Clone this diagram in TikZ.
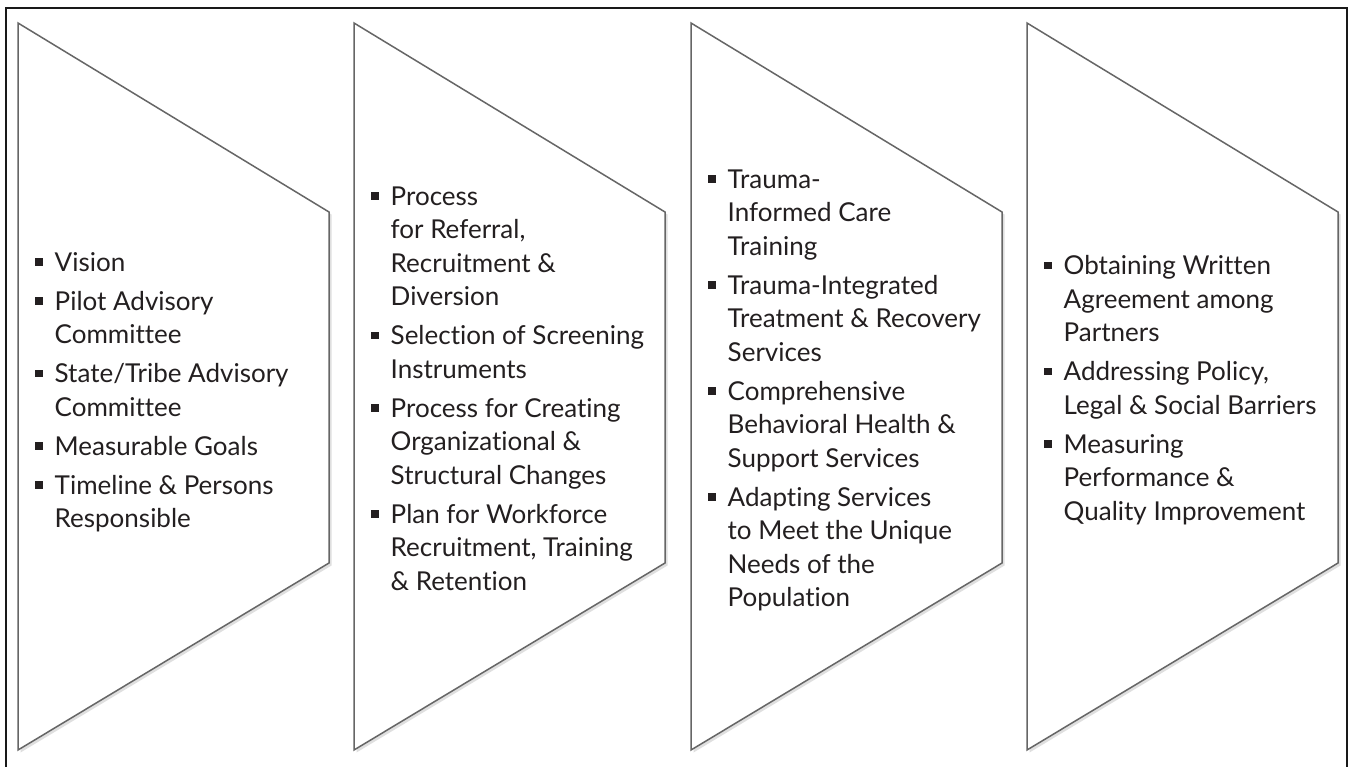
\documentclass[tikz,border=0pt]{standalone}
\usepackage{fontspec}
\setmainfont{Lato}[Ligatures=NoCommon]
\usetikzlibrary{shadows}
\definecolor{edge}{HTML}{666666}
\definecolor{ink}{HTML}{231F20}
\newcommand\sq{\raisebox{5.5pt}{\rule{7.5pt}{7.5pt}}}
\tikzset{
  chev/.style={draw=edge, line width=1.5pt, fill=white,
    drop shadow={opacity=0.25, shadow xshift=2.5pt, shadow yshift=-2.5pt}},
  txt/.style={anchor=west, inner sep=0pt, text=ink,
    font=\fontsize{26}{33.5}\selectfont},
  frame/.style={draw=black!90, line width=2.5pt}
}
\newcommand\chevron[1]{%
  \path[chev] (#1,23) -- (#1+311,212) -- (#1+311,563) -- (#1,750) -- cycle;%
}
\begin{document}
\begin{tikzpicture}[x=1pt,y=-1pt]
\useasboundingbox (0,0) rectangle (1349,766);
\fill[white] (0,0) rectangle (1349,766);
\draw[frame] (6,770) -- (6,8) -- (1347,8) -- (1347,770);
\chevron{18}
\chevron{354}
\chevron{691}
\chevron{1027}
\node[txt] (t1) at (35,393) {\begin{tabular}{@{}p{19.5pt}@{}l@{}}
\sq & Vision\\[5.5pt]
\sq & Pilot Advisory\\
 & Committee\\[5.5pt]
\sq & State/Tribe Advisory\\
 & Committee\\[5.5pt]
\sq & Measurable Goals\\[5.5pt]
\sq & Timeline \& Persons\\
 & Responsible
\end{tabular}};
\node[txt] (t2) at (371,391) {\begin{tabular}{@{}p{19.5pt}@{}l@{}}
\sq & Process\\
 & for Referral,\\
 & Recruitment \&\\
 & Diversion\\[5.5pt]
\sq & Selection of Screening\\
 & Instruments\\[5.5pt]
\sq & Process for Creating\\
 & Organizational \&\\
 & Structural Changes\\[5.5pt]
\sq & Plan for Workforce\\
 & Recruitment, Training\\
 & \& Retention
\end{tabular}};
\node[txt] (t3) at (708,391) {\begin{tabular}{@{}p{19.5pt}@{}l@{}}
\sq & Trauma-\\
 & Informed Care\\
 & Training\\[5.5pt]
\sq & Trauma-Integrated\\
 & Treatment \& Recovery\\
 & Services\\[5.5pt]
\sq & Comprehensive\\
 & Behavioral Health \&\\
 & Support Services\\[5.5pt]
\sq & Adapting Services\\
 & to Meet the Unique\\
 & Needs of the\\
 & Population
\end{tabular}};
\node[txt] (t4) at (1044,391) {\begin{tabular}{@{}p{19.5pt}@{}l@{}}
\sq & Obtaining Written\\
 & Agreement among\\
 & Partners\\[5.5pt]
\sq & Addressing Policy,\\
 & Legal \& Social Barriers\\[5.5pt]
\sq & Measuring\\
 & Performance \&\\
 & Quality Improvement
\end{tabular}};
\end{tikzpicture}
\end{document}
